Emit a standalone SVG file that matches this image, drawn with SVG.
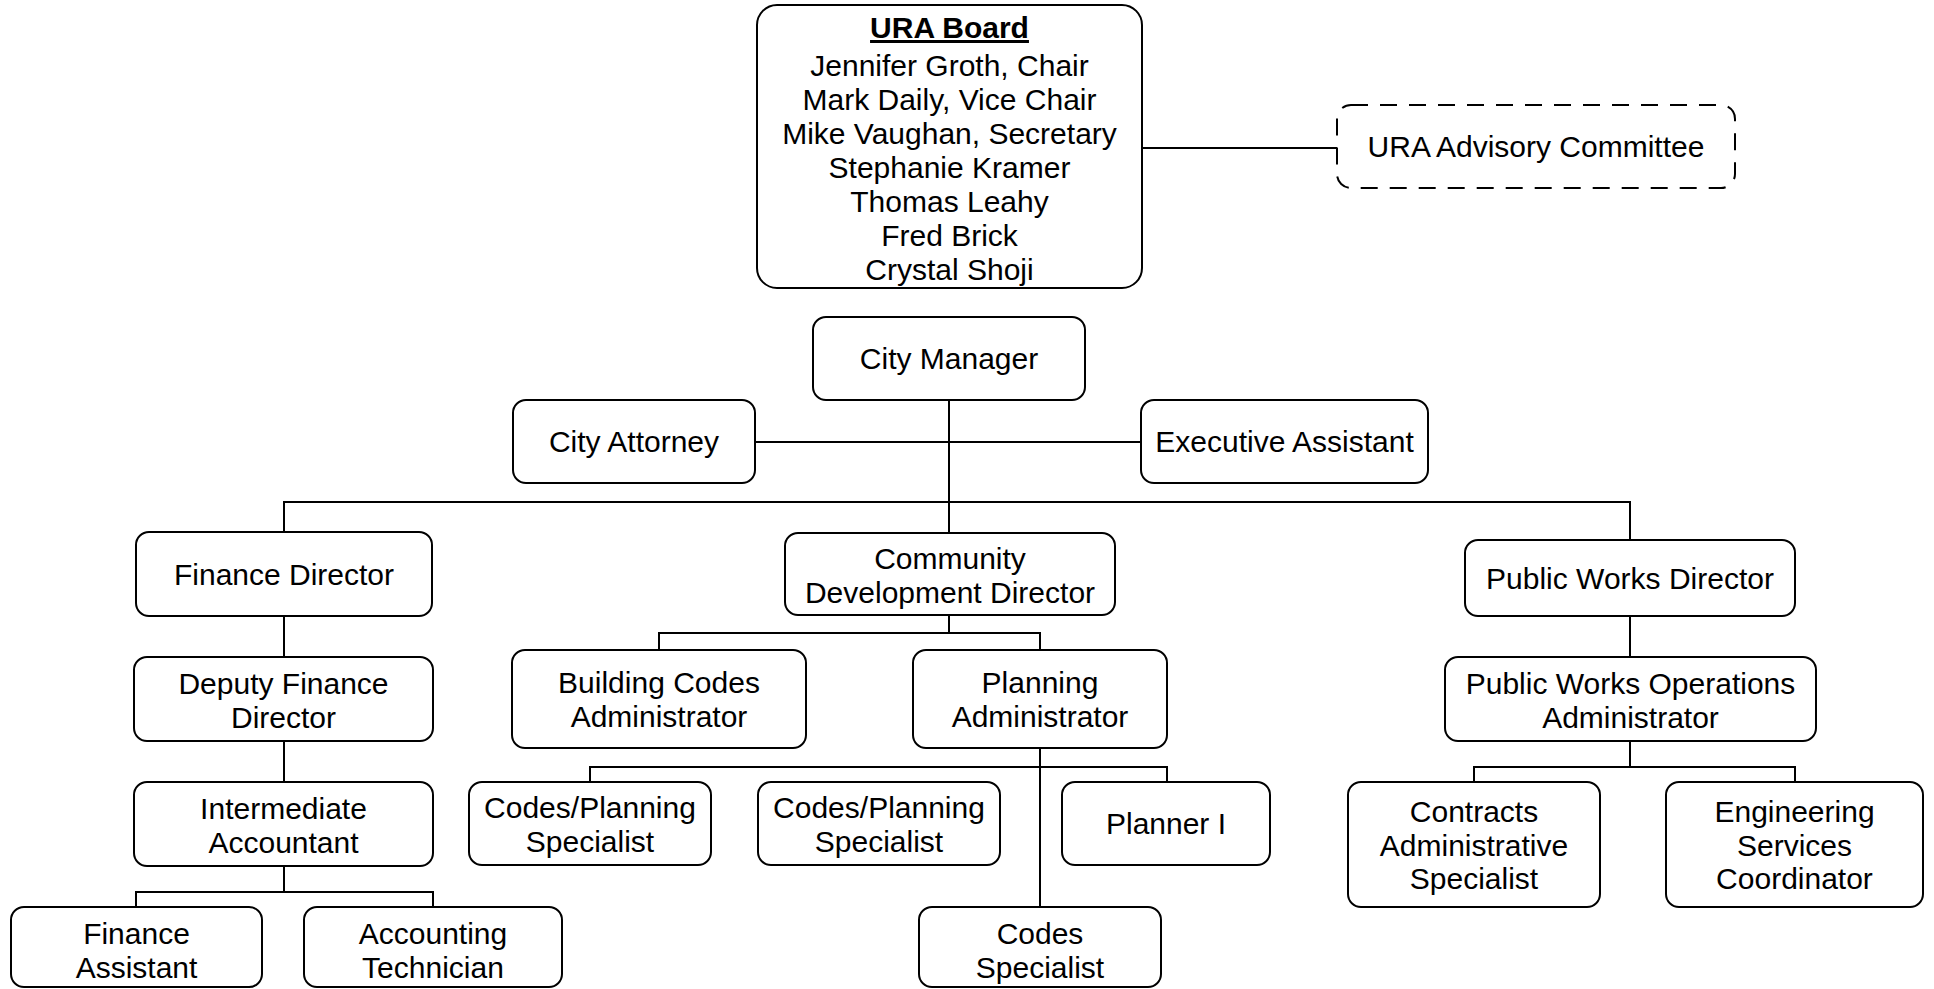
<svg xmlns="http://www.w3.org/2000/svg" width="1934" height="989" viewBox="0 0 1934 989">
<style>
.box{fill:#fff;stroke:#000;stroke-width:2}
.dash{fill:#fff;stroke:#000;stroke-width:2;stroke-dasharray:17 12}
.t{font-family:"Liberation Sans",Arial,sans-serif;font-size:30px;fill:#000;text-anchor:middle}
.conn line{stroke:#000;stroke-width:2;fill:none}
</style>
<rect width="1934" height="989" fill="#fff"/>
<g class="conn" id="connectors">
<line x1="1142" y1="148" x2="1337" y2="148"/>
<line x1="949" y1="400" x2="949" y2="533"/>
<line x1="755" y1="442" x2="1141" y2="442"/>
<line x1="284" y1="502" x2="1630" y2="502"/>
<line x1="284" y1="501" x2="284" y2="532"/>
<line x1="1630" y1="501" x2="1630" y2="540"/>
<line x1="284" y1="616" x2="284" y2="657"/>
<line x1="284" y1="741" x2="284" y2="782"/>
<line x1="284" y1="866" x2="284" y2="892"/>
<line x1="136" y1="892" x2="433" y2="892"/>
<line x1="136" y1="891" x2="136" y2="907"/>
<line x1="433" y1="891" x2="433" y2="907"/>
<line x1="949" y1="615" x2="949" y2="633"/>
<line x1="659" y1="633" x2="1040" y2="633"/>
<line x1="659" y1="632" x2="659" y2="650"/>
<line x1="1040" y1="632" x2="1040" y2="650"/>
<line x1="1040" y1="748" x2="1040" y2="907"/>
<line x1="590" y1="767" x2="1167" y2="767"/>
<line x1="590" y1="766" x2="590" y2="782"/>
<line x1="1167" y1="766" x2="1167" y2="782"/>
<line x1="1630" y1="616" x2="1630" y2="657"/>
<line x1="1630" y1="741" x2="1630" y2="767"/>
<line x1="1474" y1="767" x2="1795" y2="767"/>
<line x1="1474" y1="766" x2="1474" y2="782"/>
<line x1="1795" y1="766" x2="1795" y2="782"/>
</g>
<g id="ura-board">
<rect class="box" x="757" y="5" width="385" height="283" rx="20"/>
<text class="t" x="949.5" y="38" font-weight="bold" text-decoration="underline">URA Board</text>
<text class="t"><tspan x="949.5" y="76">Jennifer Groth, Chair</tspan><tspan x="949.5" y="110">Mark Daily, Vice Chair</tspan><tspan x="949.5" y="144">Mike Vaughan, Secretary</tspan><tspan x="949.5" y="178">Stephanie Kramer</tspan><tspan x="949.5" y="211.5">Thomas Leahy</tspan><tspan x="949.5" y="245.5">Fred Brick</tspan><tspan x="949.5" y="279.5">Crystal Shoji</tspan></text>
</g>
<g id="ura-advisory">
<rect class="dash" x="1337" y="105" width="398" height="83" rx="14"/>
<text class="t" x="1536" y="157">URA Advisory Committee</text>
</g>
<g id="city-manager">
<rect class="box" x="813" y="317" width="272" height="83" rx="13"/>
<text class="t" x="949" y="369">City Manager</text>
</g>
<g id="city-attorney">
<rect class="box" x="513" y="400" width="242" height="83" rx="13"/>
<text class="t" x="634" y="452">City Attorney</text>
</g>
<g id="executive-assistant">
<rect class="box" x="1141" y="400" width="287" height="83" rx="13"/>
<text class="t" x="1284.5" y="452">Executive Assistant</text>
</g>
<g id="finance-director">
<rect class="box" x="136" y="532" width="296" height="84" rx="13"/>
<text class="t" x="284" y="585">Finance Director</text>
</g>
<g id="community-development-director">
<rect class="box" x="785" y="533" width="330" height="82" rx="13"/>
<text class="t"><tspan x="950" y="569">Community</tspan><tspan x="950" y="603">Development Director</tspan></text>
</g>
<g id="public-works-director">
<rect class="box" x="1465" y="540" width="330" height="76" rx="13"/>
<text class="t" x="1630" y="589">Public Works Director</text>
</g>
<g id="deputy-finance-director">
<rect class="box" x="134" y="657" width="299" height="84" rx="13"/>
<text class="t"><tspan x="283.5" y="694">Deputy Finance</tspan><tspan x="283.5" y="728">Director</tspan></text>
</g>
<g id="building-codes-administrator">
<rect class="box" x="512" y="650" width="294" height="98" rx="13"/>
<text class="t"><tspan x="659" y="693">Building Codes</tspan><tspan x="659" y="727">Administrator</tspan></text>
</g>
<g id="planning-administrator">
<rect class="box" x="913" y="650" width="254" height="98" rx="13"/>
<text class="t"><tspan x="1040" y="693">Planning</tspan><tspan x="1040" y="727">Administrator</tspan></text>
</g>
<g id="public-works-operations-administrator">
<rect class="box" x="1445" y="657" width="371" height="84" rx="13"/>
<text class="t"><tspan x="1630.5" y="694">Public Works Operations</tspan><tspan x="1630.5" y="728">Administrator</tspan></text>
</g>
<g id="intermediate-accountant">
<rect class="box" x="134" y="782" width="299" height="84" rx="13"/>
<text class="t"><tspan x="283.5" y="819">Intermediate</tspan><tspan x="283.5" y="853">Accountant</tspan></text>
</g>
<g id="codes-planning-specialist-1">
<rect class="box" x="469" y="782" width="242" height="83" rx="13"/>
<text class="t"><tspan x="590" y="818">Codes/Planning</tspan><tspan x="590" y="852">Specialist</tspan></text>
</g>
<g id="codes-planning-specialist-2">
<rect class="box" x="758" y="782" width="242" height="83" rx="13"/>
<text class="t"><tspan x="879" y="818">Codes/Planning</tspan><tspan x="879" y="852">Specialist</tspan></text>
</g>
<g id="planner-i">
<rect class="box" x="1062" y="782" width="208" height="83" rx="13"/>
<text class="t" x="1166" y="834">Planner I</text>
</g>
<g id="contracts-administrative-specialist">
<rect class="box" x="1348" y="782" width="252" height="125" rx="13"/>
<text class="t"><tspan x="1474" y="822">Contracts</tspan><tspan x="1474" y="855.5">Administrative</tspan><tspan x="1474" y="889">Specialist</tspan></text>
</g>
<g id="engineering-services-coordinator">
<rect class="box" x="1666" y="782" width="257" height="125" rx="13"/>
<text class="t"><tspan x="1794.5" y="822">Engineering</tspan><tspan x="1794.5" y="855.5">Services</tspan><tspan x="1794.5" y="889">Coordinator</tspan></text>
</g>
<g id="finance-assistant">
<rect class="box" x="11" y="907" width="251" height="80" rx="13"/>
<text class="t"><tspan x="136.5" y="944">Finance</tspan><tspan x="136.5" y="978">Assistant</tspan></text>
</g>
<g id="accounting-technician">
<rect class="box" x="304" y="907" width="258" height="80" rx="13"/>
<text class="t"><tspan x="433" y="944">Accounting</tspan><tspan x="433" y="978">Technician</tspan></text>
</g>
<g id="codes-specialist">
<rect class="box" x="919" y="907" width="242" height="80" rx="13"/>
<text class="t"><tspan x="1040" y="944">Codes</tspan><tspan x="1040" y="978">Specialist</tspan></text>
</g>
</svg>
